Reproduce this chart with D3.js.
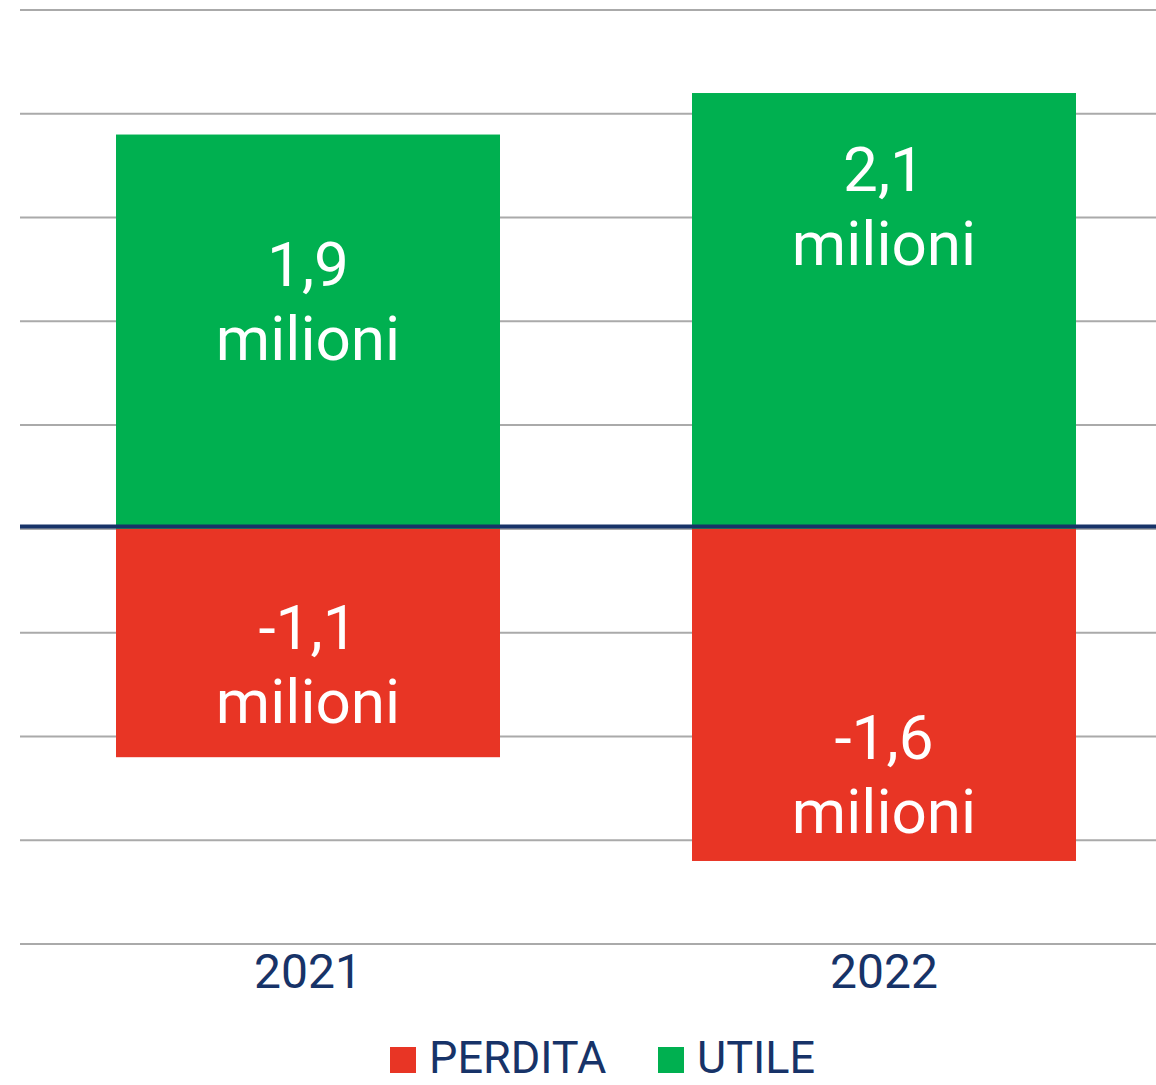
<!DOCTYPE html>
<html>
<head>
<meta charset="utf-8">
<script src="https://cdn.jsdelivr.net/npm/d3@7"></script>
<style>
    body { margin: 0; background: #fff; }
    text { font-family: Roboto, "Noto Sans", sans-serif; }
</style>
</head>
<body>
<div id="chart"></div>
<script>
// data (milioni di euro)
var anni = ["2021", "2022"];
var utile = [1.9, 2.1];
var perdita = [-1.1, -1.6];
// where the two text lines sit inside each bar (value of first baseline)
var utileLabelAt = [1.17, 1.63];
var perditaLabelAt = [-0.58, -1.11];
var gridTicks = [-2, -1.5, -1, -0.5, 0, 0.5, 1, 1.5, 2, 2.5];
var legendKeys = ["PERDITA", "UTILE"];

var width = 1156, height = 1085;
var navy = "#173368";
var colors = { PERDITA: "#e83525", UTILE: "#00b050" };

var svg = d3.select("#chart").append("svg")
        .attr("width", width)
        .attr("height", height);

var x = d3.scaleBand()
        .domain(anni)
        .range([20, 1172])
        .paddingInner(1 / 3)
        .paddingOuter(1 / 6);

var y = d3.scaleLinear()
        .domain([-2, 2.5])
        .range([944, 10]);

// gridlines
svg.append("g")
        .selectAll("line")
        .data(gridTicks)
        .enter().append("line")
        .attr("x1", 20)
        .attr("x2", width)
        .attr("y1", function (d) { return y(d); })
        .attr("y2", function (d) { return y(d); })
        .attr("stroke", "#aaaaaa")
        .attr("stroke-width", 2);

var rows = anni.map(function (a, i) {
    return { anno: a, utile: utile[i], perdita: perdita[i], uAt: utileLabelAt[i], pAt: perditaLabelAt[i] };
});

// bars
var g = svg.append("g");
g.selectAll(".utile")
        .data(rows)
        .enter().append("rect")
        .attr("class", "utile")
        .attr("x", function (d) { return x(d.anno); })
        .attr("width", x.bandwidth())
        .attr("y", function (d) { return y(d.utile); })
        .attr("height", function (d) { return y(0) - y(d.utile); })
        .attr("fill", colors.UTILE);

g.selectAll(".perdita")
        .data(rows)
        .enter().append("rect")
        .attr("class", "perdita")
        .attr("x", function (d) { return x(d.anno); })
        .attr("width", x.bandwidth())
        .attr("y", y(0))
        .attr("height", function (d) { return y(d.perdita) - y(0); })
        .attr("fill", colors.PERDITA);

// zero line
svg.append("line")
        .attr("x1", 20)
        .attr("x2", width)
        .attr("y1", y(0) - 2.5)
        .attr("y2", y(0) - 2.5)
        .attr("stroke", navy)
        .attr("stroke-width", 4);

// labels in the bars
function fmt(v) {
    return d3.format(".1f")(v).replace(".", ",").replace("\u2212", "-");
}

function barLabel(val, at) {
    var lab = svg.append("g").selectAll("g")
            .data(rows)
            .enter().append("text")
            .attr("text-anchor", "middle")
            .attr("fill", "#ffffff")
            .attr("font-size", 62)
            .attr("x", function (d) { return x(d.anno) + x.bandwidth() / 2; })
            .attr("y", function (d) { return y(d[at]); });
    lab.append("tspan")
            .text(function (d) { return fmt(d[val]); });
    lab.append("tspan")
            .attr("x", function (d) { return x(d.anno) + x.bandwidth() / 2; })
            .attr("dy", 74)
            .text("milioni");
}
barLabel("utile", "uAt");
barLabel("perdita", "pAt");

// x axis labels
svg.append("g")
        .selectAll("text")
        .data(anni)
        .enter().append("text")
        .attr("text-anchor", "middle")
        .attr("x", function (d) { return x(d) + x.bandwidth() / 2; })
        .attr("y", 988)
        .attr("font-size", 48)
        .attr("fill", navy)
        .text(function (d) { return d; });

// legend
var legendX = [390, 658];
var legend = svg.append("g")
        .selectAll("g")
        .data(legendKeys)
        .enter().append("g")
        .attr("transform", function (d, i) { return "translate(" + legendX[i] + ",1047)"; });

legend.append("rect")
        .attr("width", 26)
        .attr("height", 26)
        .attr("fill", function (d) { return colors[d]; });

legend.append("text")
        .attr("x", 39)
        .attr("y", 26)
        .attr("font-size", 45)
        .attr("fill", navy)
        .text(function (d) { return d; });
</script>
</body>
</html>
